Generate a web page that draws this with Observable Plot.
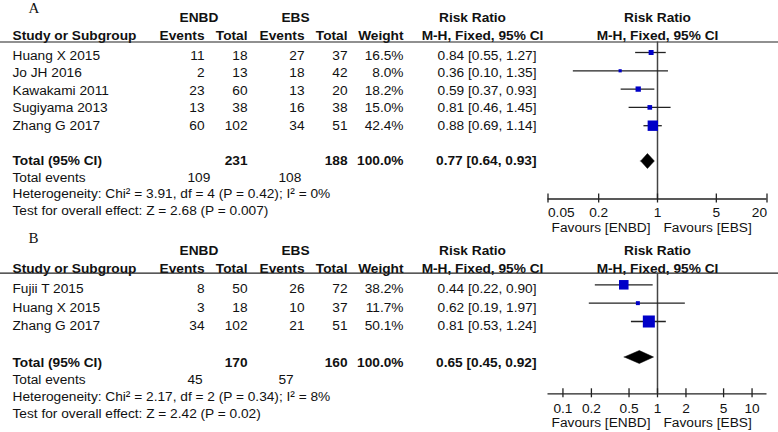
<!DOCTYPE html>
<html><head><meta charset="utf-8">
<script src="https://cdn.jsdelivr.net/npm/d3@7"></script>
<script src="https://cdn.jsdelivr.net/npm/@observablehq/plot@0.6"></script>
<style>
body{margin:0;background:#fff;}
#chart{width:778px;height:432px;overflow:hidden;background:#fff;}
.panel{display:flex;width:778px;}
.panel svg{display:block;flex:none;}
</style></head><body><div id="chart"></div>
<script>
// ---------- Panel A data ----------
const studiesA = ["Huang X 2015", "Jo JH 2016", "Kawakami 2011", "Sugiyama 2013", "Zhang G 2017"];
const enbdEventsA = [11, 2, 23, 13, 60];
const enbdTotalA = [18, 13, 60, 38, 102];
const ebsEventsA = [27, 18, 13, 16, 34];
const ebsTotalA = [37, 42, 20, 38, 51];
const weightA = [16.5, 8.0, 18.2, 15.0, 42.4];
const rrA = [0.84, 0.36, 0.59, 0.81, 0.88];
const loA = [0.55, 0.10, 0.37, 0.46, 0.69];
const hiA = [1.27, 1.35, 0.93, 1.45, 1.14];
const totalA = [231, 188, 100.0, 0.77, 0.64, 0.93];   // ENBD total, EBS total, weight, RR, lo, hi
const totalEventsA = [109, 108];
const hetA = "Heterogeneity: Chi² = 3.91, df = 4 (P = 0.42); I² = 0%";
const testA = "Test for overall effect: Z = 2.68 (P = 0.007)";
const ticksA = [0.05, 0.2, 1, 5, 20];

// ---------- Panel B data ----------
const studiesB = ["Fujii T 2015", "Huang X 2015", "Zhang G 2017"];
const enbdEventsB = [8, 3, 34];
const enbdTotalB = [50, 18, 102];
const ebsEventsB = [26, 10, 21];
const ebsTotalB = [72, 37, 51];
const weightB = [38.2, 11.7, 50.1];
const rrB = [0.44, 0.62, 0.81];
const loB = [0.22, 0.19, 0.53];
const hiB = [0.90, 1.97, 1.24];
const totalB = [170, 160, 100.0, 0.65, 0.45, 0.92];
const totalEventsB = [45, 57];
const hetB = "Heterogeneity: Chi² = 2.17, df = 2 (P = 0.34); I² = 8%";
const testB = "Test for overall effect: Z = 2.42 (P = 0.02)";
const ticksB = [0.1, 0.2, 0.5, 1, 2, 5, 10];

// ---------- layout ----------
const FONT = "'Liberation Sans', Arial, Helvetica, sans-serif";
const FS = 13.7;
const INK = "#111";
const BLUE = "#0000c8";
const TABLE_W = 545, FOREST_W = 778 - TABLE_W;
const col = {name: 12, ev1: 204, tot1: 247, ev2: 304, tot2: 347, weight: 403, rr: 536,
             tev1: 187, tev2: 278, enbd: 198.5, ebs: 295, rrHead: 472, rrSub: 482, letter: 28};

const fmt2 = v => v.toFixed(2);
const ciText = (r, l, h) => `${fmt2(r)} [${fmt2(l)}, ${fmt2(h)}]`;
const baseStyle = {fontFamily: FONT, fontSize: FS + "px", color: INK, background: "#fff", overflow: "visible"};

function panel(cfg) {
  const L = cfg.layout;
  const rows = cfg.studies.map((s, i) => ({
    name: s, ev1: cfg.ev1[i], tot1: cfg.tot1[i], ev2: cfg.ev2[i], tot2: cfg.tot2[i],
    w: cfg.weight[i], rr: cfg.rr[i], lo: cfg.lo[i], hi: cfg.hi[i], i
  }));
  const ty = d => L.row0 + d.i * L.step;
  const fy = d => L.frow0 + d.i * L.fstep;
  const T = cfg.total;
  const one = s => [s];
  const txt = (data, x, y, text, anchor, bold) =>
    Plot.text(data, {x, y, text, textAnchor: anchor, fontSize: FS, fill: INK, fontWeight: bold ? "bold" : "normal"});

  // ---- table (pixel columns) ----
  const table = Plot.plot({
    width: TABLE_W, height: cfg.height,
    marginLeft: 0, marginRight: 0, marginTop: 0, marginBottom: 0,
    style: baseStyle,
    x: {type: "identity", axis: null}, y: {type: "identity", axis: null},
    marks: [
      Plot.text(one(cfg.letter), {x: col.letter, y: L.letter, text: d => d, textAnchor: "start",
        fontFamily: "'Liberation Serif', 'Times New Roman', serif", fontSize: 15, fill: INK}),
      txt(one("ENBD"), col.enbd, L.h1, d => d, "middle", true),
      txt(one("EBS"), col.ebs, L.h1, d => d, "middle", true),
      txt(one("Risk Ratio"), col.rrHead, L.h1, d => d, "middle", true),
      txt(one("Study or Subgroup"), col.name, L.h2, d => d, "start", true),
      txt(one("Events"), col.ev1, L.h2, d => d, "end", true),
      txt(one("Total"), col.tot1, L.h2, d => d, "end", true),
      txt(one("Events"), col.ev2, L.h2, d => d, "end", true),
      txt(one("Total"), col.tot2, L.h2, d => d, "end", true),
      txt(one("Weight"), col.weight, L.h2, d => d, "end", true),
      txt(one("M-H, Fixed, 95% CI"), col.rrSub, L.h2, d => d, "middle", true),
      Plot.ruleY([L.hline], {stroke: "#222", strokeWidth: 1.2}),
      txt(rows, col.name, ty, "name", "start"),
      txt(rows, col.ev1, ty, d => String(d.ev1), "end"),
      txt(rows, col.tot1, ty, d => String(d.tot1), "end"),
      txt(rows, col.ev2, ty, d => String(d.ev2), "end"),
      txt(rows, col.tot2, ty, d => String(d.tot2), "end"),
      txt(rows, col.weight, ty, d => d.w.toFixed(1) + "%", "end"),
      txt(rows, col.rr, ty, d => ciText(d.rr, d.lo, d.hi), "end"),
      txt(one("Total (95% CI)"), col.name, L.total, d => d, "start", true),
      txt(one(T[0]), col.tot1, L.total, d => String(d), "end", true),
      txt(one(T[1]), col.tot2, L.total, d => String(d), "end", true),
      txt(one(T[2]), col.weight, L.total, d => d.toFixed(1) + "%", "end", true),
      txt(one(T), col.rr, L.total, d => ciText(d[3], d[4], d[5]), "end", true),
      txt(one("Total events"), col.name, L.events, d => d, "start"),
      txt(one(cfg.totalEvents[0]), col.tev1, L.events, d => String(d), "start"),
      txt(one(cfg.totalEvents[1]), col.tev2, L.events, d => String(d), "start"),
      txt(one(cfg.het), col.name, L.het, d => d, "start"),
      txt(one(cfg.test), col.name, L.test, d => d, "start")
    ]
  });

  // ---- forest (log scale of risk ratio) ----
  const c = L.diamond, h = L.dh;
  const diamond = [
    {x: T[4], y1: c, y2: c},
    {x: T[3], y1: c - h, y2: c + h},
    {x: T[5], y1: c, y2: c}
  ];
  const ticks = cfg.ticks;
  const tl = (data, anchor) => Plot.text(data, {x: d => d, y: L.tickLab, text: d => String(d), textAnchor: anchor, fontSize: FS, fill: INK});
  const tickLabelMarks = cfg.edgeAnchor
    ? [tl(ticks.slice(0, 1), "start"), tl(ticks.slice(1, -1), "middle"), tl(ticks.slice(-1), "end")]
    : [tl(ticks, "middle")];
  const head = (s, y) => Plot.text(one(s), {x: 1, y, text: d => d, textAnchor: "middle", fontSize: FS, fill: INK, fontWeight: "bold"});

  const forest = Plot.plot({
    width: FOREST_W, height: cfg.height,
    marginLeft: 0, marginRight: 0, marginTop: 0, marginBottom: 0,
    style: baseStyle,
    x: {type: "log", domain: cfg.domain, range: [547.5 - TABLE_W, 766.5 - TABLE_W], axis: null},
    y: {type: "identity", axis: null},
    r: {type: "linear", domain: [0, 50], range: [0.85, 6.77]},
    marks: [
      head("Risk Ratio", L.h1),
      head("M-H, Fixed, 95% CI", L.h2),
      Plot.ruleY([L.hline], {stroke: "#222", strokeWidth: 1.2}),
      Plot.ruleX([1], {y1: L.hline, y2: L.axis, stroke: "#444", strokeWidth: 1.5}),
      Plot.ruleY(rows, {x1: "lo", x2: "hi", y: fy, stroke: "#222", strokeWidth: 1.3}),
      Plot.dot(rows, {x: "rr", y: fy, r: "w", symbol: "square", fill: BLUE, stroke: "none"}),
      Plot.areaY(diamond, {x: "x", y1: "y1", y2: "y2", fill: "#000", stroke: "#000", strokeWidth: 0.5}),
      Plot.ruleY([L.axis], {x1: cfg.domain[0], x2: cfg.domain[1], stroke: "#222", strokeWidth: 1.3}),
      Plot.ruleX(ticks, {x: d => d, y1: L.axis - 5, y2: L.axis + 4, stroke: "#222", strokeWidth: 1.3}),
      ...tickLabelMarks,
      Plot.text(one("Favours [ENBD]"), {x: 1, dx: -7, y: L.fav, text: d => d, textAnchor: "end", fontSize: FS, fill: INK}),
      Plot.text(one("Favours [EBS]"), {x: 1, dx: 6, y: L.fav, text: d => d, textAnchor: "start", fontSize: FS, fill: INK})
    ]
  });

  const div = document.createElement("div");
  div.className = "panel";
  div.style.height = cfg.height + "px";
  div.append(table, forest);
  return div;
}

const chart = document.getElementById("chart");
chart.append(panel({
  letter: "A", height: 235,
  studies: studiesA, ev1: enbdEventsA, tot1: enbdTotalA, ev2: ebsEventsA, tot2: ebsTotalA,
  weight: weightA, rr: rrA, lo: loA, hi: hiA, total: totalA, totalEvents: totalEventsA,
  het: hetA, test: testA, ticks: ticksA, domain: [0.05, 20], edgeAnchor: true,
  layout: {letter: 8, h1: 17, h2: 35.5, hline: 41.5, row0: 55, step: 17.5, frow0: 52, fstep: 18.3,
           total: 160, events: 177, het: 193.5, test: 210.5, diamond: 161, dh: 7.5,
           axis: 198.5, tickLab: 211.7, fav: 227.5}
}));
chart.append(panel({
  letter: "B", height: 197,
  studies: studiesB, ev1: enbdEventsB, tot1: enbdTotalB, ev2: ebsEventsB, tot2: ebsTotalB,
  weight: weightB, rr: rrB, lo: loB, hi: hiB, total: totalB, totalEvents: totalEventsB,
  het: hetB, test: testB, ticks: ticksB, domain: [0.0695, 14.39], edgeAnchor: false,
  layout: {letter: 3, h1: 15, h2: 33.3, hline: 37.7, row0: 53.3, step: 18.35, frow0: 49.3, fstep: 18.35,
           total: 127, events: 144.5, het: 161.5, test: 178, diamond: 122, dh: 6.5,
           axis: 158.3, tickLab: 172.8, fav: 186.9}
}));
</script></body></html>
